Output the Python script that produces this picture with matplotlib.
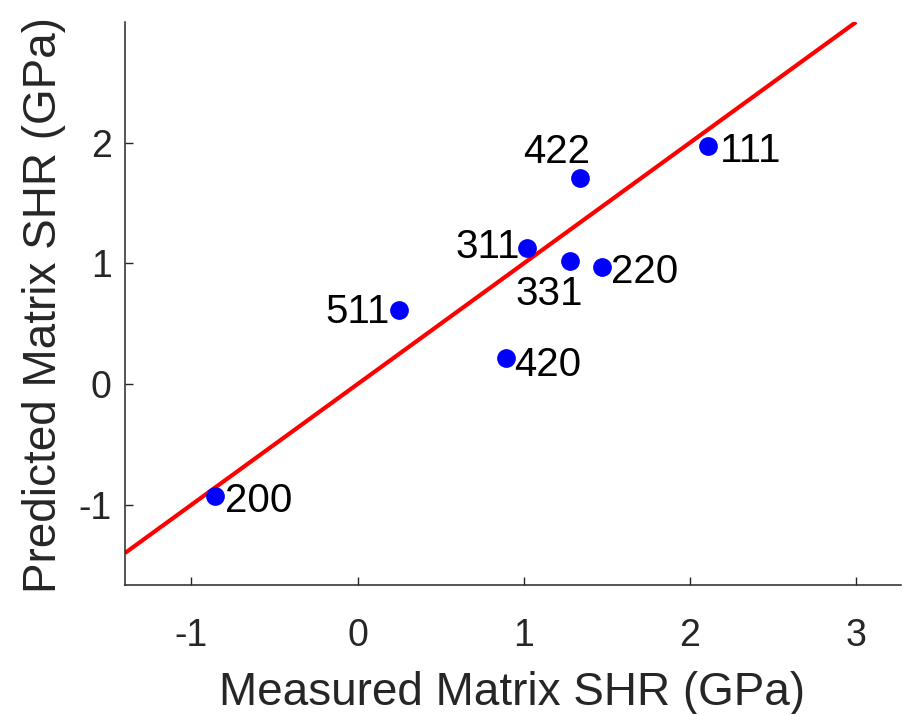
import matplotlib
matplotlib.use("Agg")
import matplotlib.pyplot as plt

plt.rcParams["font.family"] = ["Liberation Sans", "DejaVu Sans"]

# Reflections (hkl) with measured vs predicted matrix SHR in GPa
reflections = ["200", "511", "420", "311", "331", "220", "422", "111"]
measured = [-0.86, 0.25, 0.89, 1.02, 1.28, 1.47, 1.34, 2.11]
predicted = [-0.93, 0.61, 0.22, 1.13, 1.02, 0.97, 1.71, 1.97]

# Label offsets (pixels) and alignment for each reflection
label_offsets = {
    "200": (10, -16, "left"),
    "511": (-9, -13, "right"),
    "420": (9, -18, "left"),
    "311": (-7, -10, "right"),
    "331": (-21, -44, "center"),
    "220": (9, -16, "left"),
    "422": (-24, 15, "center"),
    "111": (12, -16, "left"),
}

# 1:1 reference line
ref_line = [-1.4, 3.0]

x_ticks = [-1, 0, 1, 2, 3]
y_ticks = [-1, 0, 1, 2]
axis_gray = "#262626"

fig = plt.figure(figsize=(9.05, 7.14), dpi=100)
ax = fig.add_axes([125 / 905, 1 - 585 / 714, (901 - 125) / 905, (585 - 22) / 714])

ax.plot(ref_line, ref_line, color="red", lw=3, solid_capstyle="butt", zorder=2)
ax.plot(measured, predicted, "o", color="blue", markersize=13.5, zorder=3,
        markeredgewidth=0)

for name, xv, yv in zip(reflections, measured, predicted):
    dx, dy, ha = label_offsets[name]
    ax.annotate(name, (xv, yv), xytext=(dx, dy), textcoords="offset pixels",
                ha=ha, va="baseline", fontsize=29, color="black", zorder=4)

ax.set_xlim(-1.4, 3.27)
ax.set_ylim(-1.665, 3.0)
ax.set_xticks(x_ticks)
ax.set_yticks(y_ticks)
ax.set_xticklabels([str(v) for v in x_ticks])
ax.set_yticklabels([str(v) for v in y_ticks])

for side in ("top", "right"):
    ax.spines[side].set_visible(False)
for side in ("left", "bottom"):
    ax.spines[side].set_color(axis_gray)
    ax.spines[side].set_linewidth(1.1)

ax.tick_params(axis="both", direction="in", length=6, width=1.0,
               colors=axis_gray, labelsize=27, labelcolor=axis_gray)
ax.tick_params(axis="x", pad=23.5)
ax.tick_params(axis="y", pad=9.5)

ax.set_xlabel("Measured Matrix SHR (GPa)", fontsize=33, color=axis_gray)
ax.set_ylabel("Predicted Matrix SHR (GPa)", fontsize=33, color=axis_gray)
ax.xaxis.label.set_verticalalignment("baseline")
ax.xaxis.set_label_coords((512.5 - 125) / 776, (585 - 705) / 563)
ax.yaxis.label.set_verticalalignment("baseline")
ax.yaxis.set_label_coords((56 - 125) / 776, (585 - 305) / 563)

fig.savefig("out.png", dpi=100, facecolor="white")
